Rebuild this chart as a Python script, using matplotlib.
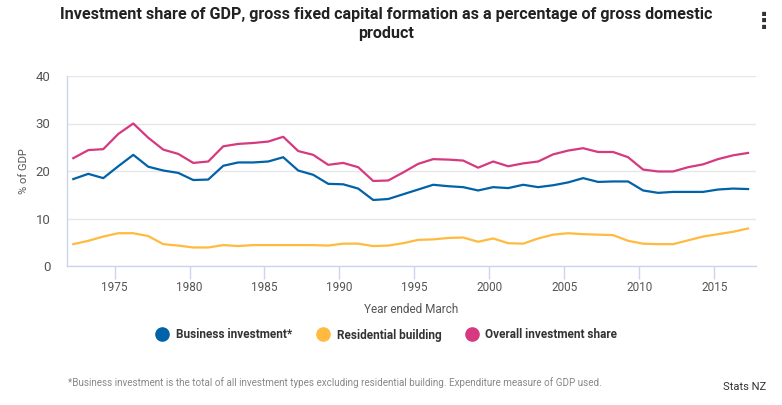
import matplotlib
matplotlib.use("Agg")
import matplotlib.pyplot as plt
from matplotlib.lines import Line2D

years = list(range(1972, 2018))
business = [18.3, 19.4, 18.5, 21.0, 23.4, 20.9, 20.1, 19.6, 18.1, 18.2,
            21.1, 21.8, 21.8, 22.0, 22.9, 20.1, 19.2, 17.3, 17.2, 16.3,
            13.9, 14.1, 15.1, 16.1, 17.1, 16.8, 16.6, 15.9, 16.6, 16.4,
            17.1, 16.6, 17.0, 17.6, 18.5, 17.7, 17.8, 17.8, 15.9, 15.4,
            15.6, 15.6, 15.6, 16.1, 16.3, 16.2]
residential = [4.6, 5.3, 6.2, 6.9, 6.9, 6.3, 4.6, 4.3, 3.9, 3.9,
               4.4, 4.2, 4.4, 4.4, 4.4, 4.4, 4.4, 4.3, 4.7, 4.7,
               4.2, 4.3, 4.8, 5.5, 5.6, 5.9, 6.0, 5.1, 5.8, 4.8,
               4.7, 5.8, 6.6, 6.9, 6.7, 6.6, 6.5, 5.3, 4.7, 4.6,
               4.6, 5.4, 6.2, 6.7, 7.2, 7.9]
overall = [22.7, 24.4, 24.6, 27.8, 30.0, 27.0, 24.5, 23.6, 21.7, 22.0,
           25.2, 25.7, 25.9, 26.2, 27.2, 24.2, 23.4, 21.3, 21.7, 20.8,
           17.9, 18.0, 19.7, 21.5, 22.5, 22.4, 22.2, 20.7, 22.0, 21.0,
           21.6, 22.0, 23.5, 24.3, 24.8, 24.0, 24.0, 22.9, 20.3, 19.9,
           19.9, 20.8, 21.4, 22.5, 23.3, 23.8]
series_names = ["Business investment*", "Residential building", "Overall investment share"]
colors = ["#0062a8", "#ffba3f", "#d6397f"]
x_ticks = [1975, 1980, 1985, 1990, 1995, 2000, 2005, 2010, 2015]
y_ticks = [0, 10, 20, 30, 40]

title = "Investment share of GDP, gross fixed capital formation as a percentage of gross domestic\nproduct"
footnote = "*Business investment is the total of all investment types excluding residential building. Expenditure measure of GDP used."
credit = "Stats NZ"

plt.rcParams['font.family'] = ['Roboto', 'DejaVu Sans']

W, H = 782, 405
fig = plt.figure(figsize=(W / 100, H / 100), dpi=100)
ax = fig.add_axes([67 / W, 1 - 266 / H, (756 - 67) / W, (266 - 76) / H])

xs = [y + 0.25 for y in years]
for vals, c in zip([business, residential, overall], colors):
    ax.plot(xs, vals, color=c, lw=1.6, solid_joinstyle='round', zorder=3)

ax.set_xlim(1971.83, 2017.78)
ax.set_ylim(0, 40)
ax.set_yticks(y_ticks)
ax.set_xticks(x_ticks)
ax.set_xticklabels([str(t) for t in x_ticks], fontsize=8.5, color="#555555")
ax.set_yticklabels([str(t) for t in y_ticks], fontsize=9.5, color="#555555")
ax.grid(axis='y', color="#e6e6e6", lw=1, zorder=0)
for s in ['top', 'right']:
    ax.spines[s].set_visible(False)
for s in ['left', 'bottom']:
    ax.spines[s].set_color("#ccd6eb")
    ax.spines[s].set_linewidth(1)
ax.tick_params(axis='x', length=9, width=1, color="#ccd6eb", pad=2, direction='out')
ax.tick_params(axis='y', length=0, pad=12)
ax.set_xlabel("Year ended March", fontsize=8.5, color="#555555", labelpad=6)
ax.set_ylabel("% of GDP", fontsize=8, color="#555555", labelpad=5)

fig.text(386 / W, 1 - 24 / H, title, ha='center', va='center', fontsize=11.6,
         fontweight='bold', color="#222222", linespacing=1.3)
fig.text(764 / W, 1 - 22 / H, "⋮", ha='center', va='center', fontsize=16,
         fontweight='bold', color="#333333", family=['DejaVu Sans'])

handles = [Line2D([], [], marker='o', ls='none', markersize=9.5, markerfacecolor=c,
                  markeredgecolor=c) for c in colors]
leg = fig.legend(handles, series_names, loc='center', bbox_to_anchor=(384 / W, 1 - 335 / H),
                 ncol=3, frameon=False, handletextpad=0.15, columnspacing=1.6,
                 prop={'weight': 'bold', 'size': 8.5})
for t in leg.get_texts():
    t.set_color("#333333")

fig.text(68 / W, 1 - 383 / H, footnote, ha='left', va='center', fontsize=7.1, color="#888888")
fig.text(766 / W, 1 - 387 / H, credit, ha='right', va='center', fontsize=8, color="#333333")

fig.savefig("out.png", dpi=100)
